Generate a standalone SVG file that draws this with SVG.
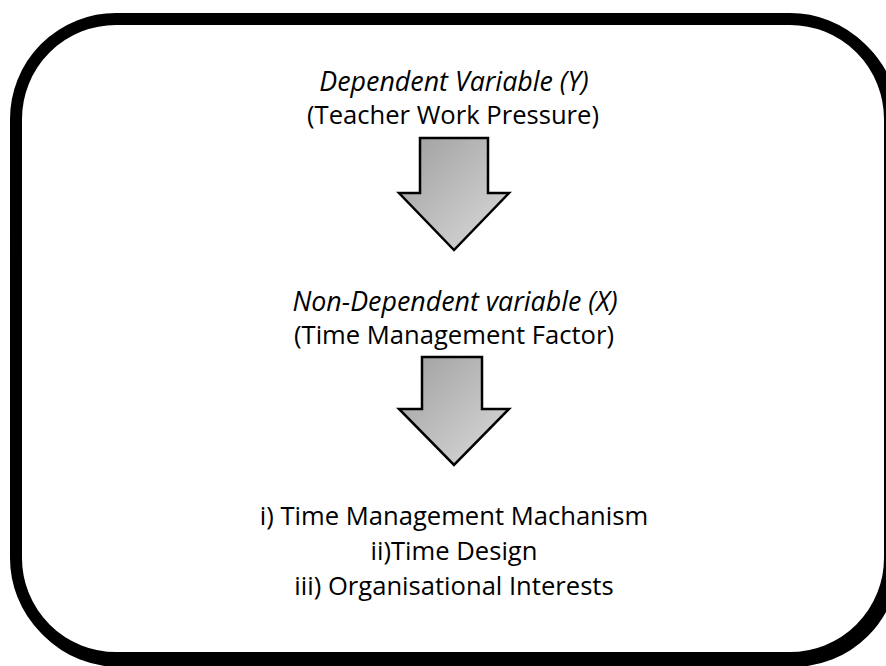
<svg xmlns="http://www.w3.org/2000/svg" width="886" height="666" viewBox="0 0 886 666">
  <defs>
    <linearGradient id="arrowFill" x1="0" y1="0" x2="1" y2="1">
      <stop offset="0" stop-color="#9e9e9e"/>
      <stop offset="1" stop-color="#dcdcdc"/>
    </linearGradient>
    <style>
      .frame { fill: #ffffff; stroke: #000000; stroke-width: 12; }
      .frame-shadow { fill: none; stroke: #000000; stroke-width: 12; }
      .arrow { fill: url(#arrowFill); stroke: #000000; stroke-width: 2.5; stroke-linejoin: miter; }
      .label { font-family: "Open Sans", Lato, sans-serif; font-size: 25.6px; fill: #000000; text-anchor: middle; }
      .italic { font-style: italic; font-size: 26.8px; }
    </style>
  </defs>

  <!-- outer rounded frame with a small drop shadow -->
  <g id="frame">
    <rect class="frame-shadow" x="19" y="22" width="874" height="639" rx="100" ry="100"/>
    <rect class="frame" x="16" y="19" width="874" height="639" rx="100" ry="100"/>
  </g>

  <!-- block arrows between the text blocks -->
  <g id="connectors">
    <polygon class="arrow" points="420,138 488,138 488,193 509,193 454,250 399,193 420,193"/>
    <polygon class="arrow" points="422,357 482,357 482,409 509,409 454,465 399,409 422,409"/>
  </g>

  <g id="dependent">
    <text class="label italic" x="454" y="91">Dependent Variable (Y)</text>
    <text class="label" x="453" y="124">(Teacher Work Pressure)</text>
  </g>

  <g id="independent">
    <text class="label italic" x="455" y="311">Non-Dependent variable (X)</text>
    <text class="label" x="454" y="344">(Time Management Factor)</text>
  </g>

  <g id="factors">
    <text class="label" x="454" y="525">i) Time Management Machanism</text>
    <text class="label" x="454" y="560">ii)Time Design</text>
    <text class="label" x="454" y="595">iii) Organisational Interests</text>
  </g>
</svg>
